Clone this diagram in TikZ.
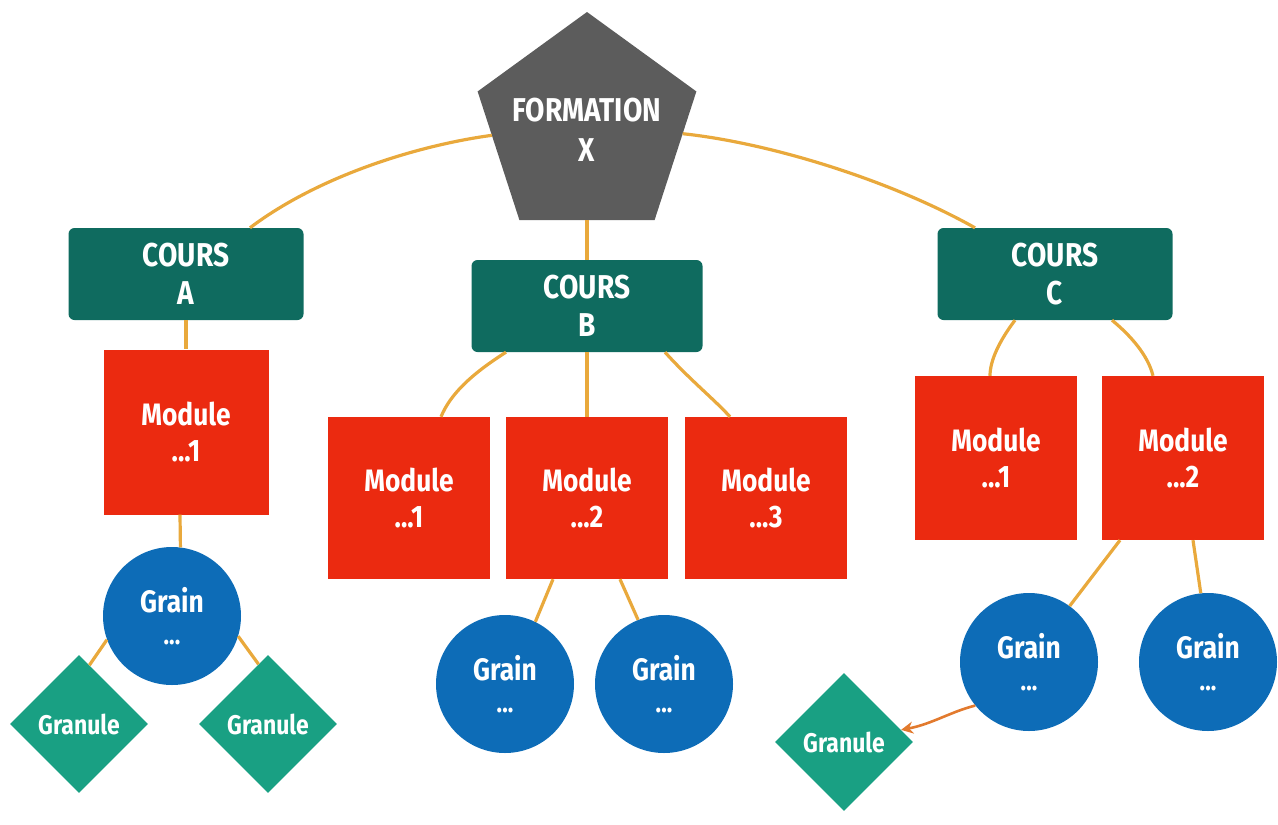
\documentclass[tikz,border=0pt]{standalone}
\usepackage{fontspec}
\setmainfont{Fira Sans}[FakeStretch=0.85]
\usetikzlibrary{shapes.geometric,arrows.meta}
\definecolor{connc}{HTML}{E9A93C}
\definecolor{arrc}{HTML}{E27A2E}
\definecolor{pentc}{HTML}{5C5C5C}
\definecolor{coursc}{HTML}{0F6B5F}
\definecolor{modc}{HTML}{EB2A10}
\definecolor{grainc}{HTML}{0D6CB7}
\definecolor{granc}{HTML}{19A083}
\begin{document}
\begin{tikzpicture}[x=1pt,y=-1pt,
 lbl/.style={text=white, align=center, inner sep=0pt, font=\bfseries\fontsize{31}{37}\selectfont},
 pentnode/.style={regular polygon, regular polygon sides=5, minimum size=230pt, inner sep=0pt, outer sep=0pt, fill=pentc},
 penttext/.style={lbl, font=\bfseries\fontsize{33}{40}\selectfont},
 coursbox/.style={lbl, rectangle, rounded corners=6pt, fill=coursc, minimum width=235pt, minimum height=92pt, font=\bfseries\fontsize{33}{38}\selectfont},
 modbox/.style={lbl, rectangle, fill=modc, minimum width=162pt, minimum height=162pt, font=\bfseries\fontsize{31}{36}\selectfont},
 grainnode/.style={lbl, circle, fill=grainc, minimum size=138pt, font=\bfseries\fontsize{31}{32}\selectfont},
 granulenode/.style={lbl, diamond, fill=granc, minimum width=138pt, minimum height=138pt, font=\bfseries\fontsize{27}{30}\selectfont},
 conn/.style={draw=connc, line width=3.2pt},
 arr/.style={draw=arrc, line width=2.6pt, -{Stealth[length=12pt,width=12pt]}}
]
\useasboundingbox (0,0) rectangle (1278,825);
\node[pentnode] (F) at (587,127) {};
\node[penttext] (Ftxt) at (587,130) {FORMATION\\X};
\node[coursbox] (A) at (186,274) {COURS\\A};
\node[coursbox, minimum width=231pt] (B) at (587,306) {COURS\\B};
\node[coursbox] (C) at (1055,274) {COURS\\C};
\node[modbox, minimum width=165pt, minimum height=165pt] (MA) at (186,432) {Module\\...1};
\node[modbox] (MB1) at (409,498) {Module\\...1};
\node[modbox] (MB2) at (587,498) {Module\\...2};
\node[modbox] (MB3) at (766,498) {Module\\...3};
\node[modbox, minimum height=164pt] (MC1) at (996,458) {Module\\...1};
\node[modbox, minimum height=164pt] (MC2) at (1183,458) {Module\\...2};
\node[grainnode] (GA) at (172,616) {Grain\\{\fontsize{27}{27}\selectfont ...}};
\node[grainnode] (GB1) at (505,684) {Grain\\{\fontsize{27}{27}\selectfont ...}};
\node[grainnode] (GB2) at (664,684) {Grain\\{\fontsize{27}{27}\selectfont ...}};
\node[grainnode] (GC1) at (1029,662) {Grain\\{\fontsize{27}{27}\selectfont ...}};
\node[grainnode] (GC2) at (1208,662) {Grain\\{\fontsize{27}{27}\selectfont ...}};
\node[granulenode] (GnA1) at (79,724) {Granule};
\node[granulenode] (GnA2) at (268,724) {Granule};
\node[granulenode] (GnC) at (844,742) {Granule};
\draw[conn] (F.185) .. controls (420,145) and (320,175) .. ([xshift=64pt]A.north);
\draw[conn] (F.-4) .. controls (770,143) and (890,180) .. ([xshift=-80pt]C.north);
\draw[conn] (F.south) -- (B.north);
\draw[conn] (A.south) -- (MA.north);
\draw[conn] ([xshift=-6pt]MA.south) -- (GA.83);
\draw[conn] (GA.200) -- (GnA1.80);
\draw[conn] (GA.-17) -- (GnA2.99);
\draw[conn] ([xshift=-81pt]B.south) .. controls (470,375) and (450,395) .. ([xshift=32pt]MB1.north);
\draw[conn] (B.south) -- (MB2.north);
\draw[conn] ([xshift=78pt]B.south) .. controls (690,380) and (715,400) .. ([xshift=-36pt]MB3.north);
\draw[conn] ([xshift=-34pt]MB2.south) -- (GB1.64);
\draw[conn] ([xshift=33pt]MB2.south) -- (GB2.112);
\draw[conn] ([xshift=-40pt]C.south) .. controls (1000,340) and (990,360) .. ([xshift=-6pt]MC1.north);
\draw[conn] ([xshift=57pt]C.south) .. controls (1130,335) and (1148,355) .. ([xshift=-30pt]MC2.north);
\draw[conn] ([xshift=-63pt]MC2.south) -- (GC1.54);
\draw[conn] ([xshift=10pt]MC2.south) -- (GC2.96);
\draw[arr] (GC1.219) .. controls (950,712) and (932,724) .. (GnC.12);
\end{tikzpicture}
\end{document}
